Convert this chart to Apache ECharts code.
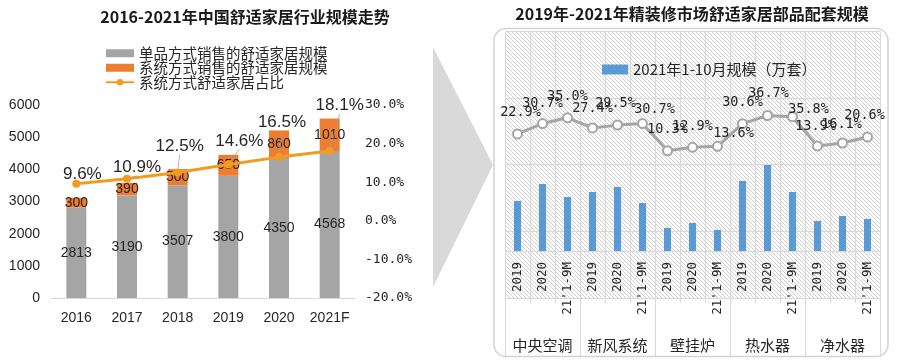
<!DOCTYPE html>
<html>
<head>
<meta charset="utf-8">
<script src="https://cdn.jsdelivr.net/npm/echarts@6/dist/echarts.min.js"></script>
<style>
html,body{margin:0;padding:0;background:#fff;}
#c{width:900px;height:362px;}
</style>
</head>
<body>
<div id="c"></div>
<script>
// ---------- data (left chart) ----------
const leftYears = ['2016', '2017', '2018', '2019', '2020', '2021F'];
const singleSales = [2813, 3190, 3507, 3800, 4350, 4568];
const systemSales = [300, 390, 500, 650, 860, 1010];
const systemShare = [9.6, 10.9, 12.5, 14.6, 16.5, 18.1];
const leftValueTicks = { min: 0, max: 6000, interval: 1000 };
const leftShareTicks = { min: -20, max: 30, interval: 10 };

// ---------- data (right chart) ----------
const productGroups = ['中央空调', '新风系统', '壁挂炉', '热水器', '净水器'];
const periods = ['2019', '2020', "21'1-9M"];
const matchScale = [25, 33.5, 27, 29.5, 32, 24, 11.5, 14, 10.5, 35, 43, 29.5, 15, 17.5, 16];
const matchRate = [22.9, 30.7, 35.0, 27.4, 29.5, 30.7, 10.3, 12.9, 13.6, 30.6, 36.7, 35.8, 13.9, 16.1, 20.6];

// ---------- label nudges (layout only) ----------
const leftShareNudge = [[6, 8], [10, 6], [2, -9], [11, -6], [3, -17], [10, -28]];
const rightRateNudge = [[3, -21], [0, -20], [0, -21], [0, -19], [-2, -22], [12, -14], [0, -21], [0, -21],
  [16, -13], [0, -21], [1, -22], [16, -7], [-2, -19], [-1, -19], [-3, -21]];

const rightCats = [];
productGroups.forEach(g => periods.forEach(p => rightCats.push(p)));

// hatch pattern
const tile = document.createElement('canvas');
tile.width = 4; tile.height = 4;
const tc = tile.getContext('2d');
tc.fillStyle = '#ffffff'; tc.fillRect(0, 0, 4, 4);
tc.strokeStyle = '#d0d0d0'; tc.lineWidth = 1;
tc.beginPath();
tc.moveTo(0, 0); tc.lineTo(4, 4);
tc.moveTo(-1, 3); tc.lineTo(1, 5);
tc.moveTo(3, -1); tc.lineTo(5, 1);
tc.stroke();

const SANS = "'Liberation Sans','Noto Sans CJK SC',sans-serif";
const CJK = "'Noto Sans CJK SC',sans-serif";
const MONO = "'DejaVu Sans Mono','Noto Sans CJK SC',monospace";
const INK = '#262626';
const GRIDC = '#d9d9d9';

const chart = echarts.init(document.getElementById('c'), null, { renderer: 'canvas' });

const option = {
  animation: false,
  textStyle: { fontFamily: SANS, color: INK },
  title: [
    { text: '2016-2021年中国舒适家居行业规模走势', left: 240, top: 4, textAlign: 'center',
      textStyle: { fontFamily: CJK, fontSize: 16, fontWeight: 'bold', color: '#1a1a1a' } },
    { text: '2019年-2021年精装修市场舒适家居部品配套规模', left: 687, top: 1, textAlign: 'center',
      textStyle: { fontFamily: CJK, fontSize: 16, fontWeight: 'bold', color: '#1a1a1a' } }
  ],
  legend: [
    { orient: 'vertical', left: 100, top: 41, itemGap: 0, itemWidth: 28, itemHeight: 8,
      data: [
        { name: '单品方式销售的舒适家居规模', icon: 'rect' },
        { name: '系统方式销售的舒适家居规模', icon: 'rect' },
        { name: '系统方式舒适家居占比' }
      ],
      textStyle: { fontFamily: CJK, fontSize: 14.5, lineHeight: 14.5, color: INK } },
    { left: 597, top: 57, itemWidth: 26, itemHeight: 10,
      data: [{ name: '2021年1-10月规模（万套）', icon: 'rect' }],
      textStyle: { fontFamily: CJK, fontSize: 15, color: INK } }
  ],
  grid: [
    { left: 51, right: 545, top: 105, bottom: 64 },
    { left: 505, right: 20, top: 31, bottom: 64, show: true, borderWidth: 0,
      backgroundColor: { image: tile, repeat: 'repeat' } },
    { left: 505, right: 20, top: 31, bottom: 111 }
  ],
  xAxis: [
    { type: 'category', gridIndex: 0, data: leftYears,
      axisLine: { lineStyle: { color: GRIDC, width: 1 } }, axisTick: { show: false },
      axisLabel: { interval: 0, margin: 13, fontSize: 14, color: INK, fontFamily: SANS } },
    { type: 'category', gridIndex: 1, data: rightCats,
      axisLine: { show: false }, axisTick: { show: false }, axisLabel: { show: false },
      splitLine: { show: true, interval: 0, lineStyle: { color: GRIDC, width: 1 } } },
    { type: 'category', gridIndex: 2, data: rightCats,
      axisLine: { lineStyle: { color: GRIDC, width: 1 } },
      axisTick: { show: true, interval: 0, length: 52, lineStyle: { color: GRIDC } },
      axisLabel: { interval: 0, rotate: 90, margin: 11, fontSize: 12.5, fontFamily: MONO, color: INK } },
    { type: 'category', gridIndex: 2, data: productGroups, position: 'bottom',
      axisLine: { show: false },
      axisTick: { show: true, interval: 0, length: 106, lineStyle: { color: GRIDC } },
      axisLabel: { interval: 0, margin: 87, fontSize: 15, fontFamily: CJK, color: INK } }
  ],
  yAxis: [
    { type: 'value', gridIndex: 0, min: leftValueTicks.min, max: leftValueTicks.max, interval: leftValueTicks.interval,
      axisLine: { show: false }, axisTick: { show: false }, splitLine: { show: false },
      axisLabel: { margin: 11, fontSize: 14, color: INK, fontFamily: SANS, formatter: v => String(v) } },
    { type: 'value', gridIndex: 0, position: 'right', min: leftShareTicks.min, max: leftShareTicks.max, interval: leftShareTicks.interval,
      axisLine: { show: false }, axisTick: { show: false }, splitLine: { show: false },
      axisLabel: { margin: 10, fontSize: 13, color: INK, fontFamily: MONO, formatter: v => v.toFixed(1) + '%' } },
    { type: 'value', gridIndex: 1, min: -100, max: 100, interval: 50,
      axisLine: { show: false }, axisTick: { show: false }, axisLabel: { show: false },
      splitLine: { show: true, lineStyle: { color: GRIDC, width: 1 } } },
    { type: 'value', gridIndex: 2, min: 0, max: 110,
      axisLine: { show: false }, axisTick: { show: false }, axisLabel: { show: false }, splitLine: { show: false } }
  ],
  graphic: [
    { type: 'polygon', shape: { points: [[433, 47], [433, 287], [493, 165]] },
      style: { fill: '#d9d9d9' }, z: -1 },
    { type: 'rect', shape: { x: 494, y: 28.5, width: 394, height: 328, r: 12 },
      style: { fill: 'none', stroke: '#d4d4d4', lineWidth: 1.5 }, z: 10 }
  ],
  series: [
    { name: '单品方式销售的舒适家居规模', type: 'bar', stack: 'total', xAxisIndex: 0, yAxisIndex: 0,
      data: singleSales, barWidth: 20, itemStyle: { color: '#a5a5a5' },
      label: { show: true, position: 'inside', fontSize: 14, color: INK, fontFamily: SANS } },
    { name: '系统方式销售的舒适家居规模', type: 'bar', stack: 'total', xAxisIndex: 0, yAxisIndex: 0,
      data: systemSales, barWidth: 20, itemStyle: { color: '#ed7d31' },
      label: { show: true, position: 'inside', fontSize: 14, color: INK, fontFamily: SANS } },
    { name: '系统方式舒适家居占比', type: 'line', xAxisIndex: 0, yAxisIndex: 1,
      data: systemShare, symbol: 'circle', symbolSize: 8,
      lineStyle: { color: '#f39b1e', width: 3 }, itemStyle: { color: '#f39b1e' },
      label: { show: true, position: 'top', fontSize: 17, color: INK, fontFamily: SANS,
        formatter: p => p.value.toFixed(1) + '%' },
      labelLine: { show: true, lineStyle: { color: '#a0a0a0', width: 0.8 } },
      labelLayout: p => ({ dx: leftShareNudge[p.dataIndex][0], dy: leftShareNudge[p.dataIndex][1] }),
      z: 5 },
    { name: '2021年1-10月规模（万套）', type: 'bar', xAxisIndex: 2, yAxisIndex: 3,
      data: matchScale, barWidth: 7, itemStyle: { color: '#5b9bd5' } },
    { name: 'rate', type: 'line', xAxisIndex: 1, yAxisIndex: 2,
      data: matchRate.map((v, i) => ({ value: v, label: { offset: rightRateNudge[i] } })),
      symbol: 'circle', symbolSize: 9,
      lineStyle: { color: '#a5a5a5', width: 3 },
      itemStyle: { color: '#ffffff', borderColor: '#a5a5a5', borderWidth: 2 },
      label: { show: true, position: 'inside', fontSize: 13.5, color: INK, fontFamily: MONO,
        formatter: p => p.value.toFixed(1) + '%' },
      z: 5 }
  ]
};
chart.setOption(option);
</script>
</body>
</html>
